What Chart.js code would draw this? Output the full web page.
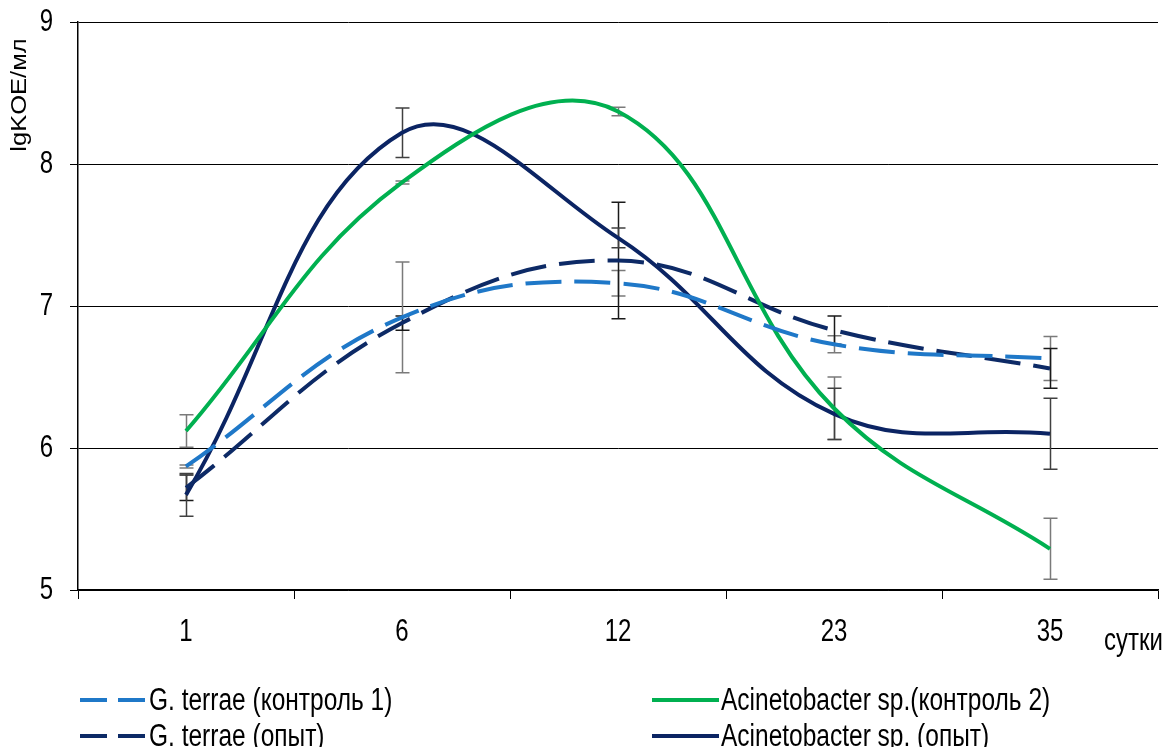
<!DOCTYPE html>
<html>
<head>
<meta charset="utf-8">
<script src="https://cdn.jsdelivr.net/npm/chart.js@4/dist/chart.umd.min.js"></script>
<style>
  html, body { margin: 0; padding: 0; background: #fff; }
  #wrap { width: 1166px; height: 747px; position: relative; }
</style>
</head>
<body>
<div id="wrap"><canvas id="c" width="1166" height="747"></canvas></div>
<script>
// Sampling days (x categories) and the value axis range
const days = ['1', '6', '12', '23', '35'];
const yMin = 5;
const yMax = 9;

// lg CFU/ml per day, with ± error for each point
const gTerraeControl    = [5.87, 6.92, 7.16, 6.73, 6.63];
const gTerraeControlErr = [0.01, 0.39, 0.09, 0.06, 0.155];

const gTerraeExp        = [5.72, 6.88, 7.32, 6.83, 6.56];
const gTerraeExpErr     = [0.09, 0.05, 0.41, 0.10, 0.14];

const acinControl       = [6.12, 7.87, 8.37, 6.28, 5.29];
const acinControlErr    = [0.115, 0.01, 0.03, 0.22, 0.215];

const acinExp           = [5.67, 8.22, 7.48, 6.24, 6.10];
const acinExpErr        = [0.15, 0.175, 0.07, 0.18, 0.25];

const FONT = '"Liberation Sans", Arial, sans-serif';
const DASH = [36, 13];

const datasets = [
  { label: 'G. terrae (контроль 1)', data: gTerraeControl, errors: gTerraeControlErr,
    borderColor: '#1f78c8', borderDash: DASH, errColor: '#7a7a7a', legendSlot: [0, 0] },
  { label: 'Acinetobacter sp.(контроль 2)', data: acinControl, errors: acinControlErr,
    borderColor: '#00b050', borderDash: [], errColor: '#7a7a7a', legendSlot: [1, 0] },
  { label: 'G. terrae (опыт)', data: gTerraeExp, errors: gTerraeExpErr,
    borderColor: '#0d2a66', borderDash: DASH, errColor: '#1a1a1a', legendSlot: [0, 1] },
  { label: 'Acinetobacter sp. (опыт)', data: acinExp, errors: acinExpErr,
    borderColor: '#0b2463', borderDash: [], errColor: '#404040', legendSlot: [1, 1] }
].map(d => Object.assign({
  borderWidth: 4,
  tension: 0.4,
  pointRadius: 0,
  pointHoverRadius: 0,
  fill: false,
  borderCapStyle: 'butt'
}, d));

// Text drawn in a tall, narrow style (vertical stretch sy)
function tallText(ctx, text, x, y, size, sy, align) {
  ctx.save();
  ctx.translate(x, y);
  ctx.scale(1, sy);
  ctx.font = size + 'px ' + FONT;
  ctx.textAlign = align;
  ctx.textBaseline = 'middle';
  ctx.fillText(text, 0, 0);
  ctx.restore();
}

// Vertical error whiskers with caps, placed through the chart's scales
const errorBars = {
  id: 'errorBars',
  beforeDatasetsDraw(chart) {
    const ctx = chart.ctx;
    const ys = chart.scales.y;
    ctx.save();
    chart.data.datasets.forEach((ds, i) => {
      const meta = chart.getDatasetMeta(i);
      ctx.strokeStyle = ds.errColor;
      ctx.lineWidth = 1.5;
      ds.data.forEach((v, j) => {
        const e = ds.errors[j];
        const x = Math.round(meta.data[j].x) + 0.5;
        const yt = ys.getPixelForValue(v + e);
        const yb = ys.getPixelForValue(v - e);
        ctx.beginPath();
        ctx.moveTo(x, yt); ctx.lineTo(x, yb);
        ctx.moveTo(x - 7, yt); ctx.lineTo(x + 7, yt);
        ctx.moveTo(x - 7, yb); ctx.lineTo(x + 7, yb);
        ctx.stroke();
      });
    });
    ctx.restore();
  }
};

// Tick labels, axis captions and the two-column legend
const captions = {
  id: 'captions',
  afterDraw(chart) {
    const ctx = chart.ctx;
    const xs = chart.scales.x;
    const ys = chart.scales.y;
    ctx.save();
    ctx.fillStyle = '#000';

    // tick labels, positioned by the scales
    chart.data.labels.forEach((lab, i) => {
      tallText(ctx, lab, xs.getPixelForValue(i), 632, 24, 1.3, 'center');
    });
    ys.ticks.forEach(t => {
      tallText(ctx, String(t.value), 53, ys.getPixelForValue(t.value), 24, 1.3, 'right');
    });

    // y-axis caption, rotated and stretched along its length
    ctx.save();
    ctx.translate(20, 95);
    ctx.rotate(-Math.PI / 2);
    ctx.scale(1.16, 1);
    ctx.font = '22px ' + FONT;
    ctx.textAlign = 'center';
    ctx.textBaseline = 'middle';
    ctx.fillText('lgKOE/мл', 0, 0);
    ctx.restore();

    // x-axis unit
    tallText(ctx, 'сутки', 1163, 641, 24, 1.3, 'right');

    // legend
    const colX = [80, 652];
    const rowY = [700, 736];
    chart.data.datasets.forEach(ds => {
      const x = colX[ds.legendSlot[0]];
      const y = rowY[ds.legendSlot[1]];
      ctx.strokeStyle = ds.borderColor;
      ctx.lineWidth = 4;
      ctx.setLineDash(ds.borderDash.length ? [27, 11] : []);
      ctx.beginPath();
      ctx.moveTo(x, y);
      ctx.lineTo(x + 67, y);
      ctx.stroke();
      ctx.setLineDash([]);
      tallText(ctx, ds.label, x + 69, y + 1, 24.5, 1.3, 'left');
    });
    ctx.restore();
  }
};

new Chart(document.getElementById('c'), {
  type: 'line',
  data: { labels: days, datasets },
  options: {
    responsive: false,
    devicePixelRatio: 1,
    animation: false,
    events: [],
    layout: { padding: { top: 22, right: 8, bottom: 107, left: 0 } },
    plugins: { legend: { display: false }, tooltip: { enabled: false } },
    scales: {
      x: {
        type: 'category',
        offset: true,
        grid: { offset: true, drawOnChartArea: false, drawTicks: true, tickLength: 9, color: '#000', lineWidth: 1 },
        border: { color: '#000', width: 1.5 },
        ticks: { display: false },
        afterFit(s) { s.height = 50; }
      },
      y: {
        min: yMin,
        max: yMax,
        grid: { color: '#000', lineWidth: 1, tickLength: 8 },
        border: { color: '#000', width: 1.5 },
        ticks: { stepSize: 1, display: false },
        afterFit(s) { s.width = 78; }
      }
    }
  },
  plugins: [errorBars, captions]
});
</script>
</body>
</html>
